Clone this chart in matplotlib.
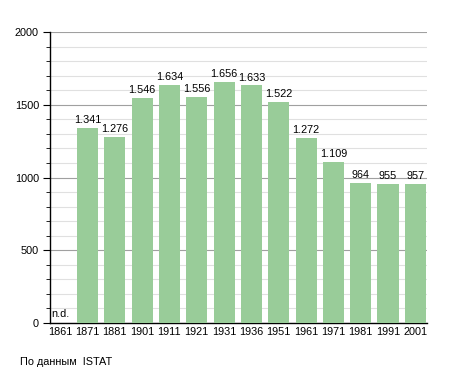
import matplotlib
matplotlib.use("Agg")
import matplotlib.pyplot as plt
from matplotlib.ticker import MultipleLocator

plt.rcParams['font.family'] = ['Liberation Sans', 'DejaVu Sans']

years = ['1861', '1871', '1881', '1901', '1911', '1921', '1931', '1936',
         '1951', '1961', '1971', '1981', '1991', '2001']
population = [None, 1341, 1276, 1546, 1634, 1556, 1656, 1633,
              1522, 1272, 1109, 964, 955, 957]

fig = plt.figure(figsize=(4.55, 3.73), dpi=100)
ax = fig.add_axes([0.110, 0.134, 0.828, 0.780])

xs = list(range(len(years)))
for x, v in zip(xs, population):
    if v is None:
        ax.text(x - 0.33, 25, 'n.d.', fontsize=7.8, ha='left', va='bottom')
        continue
    ax.bar(x, v, width=0.77, color='#99cc99', zorder=3)
    label = f'{v:,}'.replace(',', '.')
    ax.text(x, v + 20, label, fontsize=7.8, ha='center', va='bottom', zorder=4)

ax.set_xlim(-0.37, 13.42)
ax.set_ylim(0, 2000)
ax.set_xticks(xs)
ax.set_xticklabels(years, fontsize=7.8)
ax.tick_params(axis='x', length=0, pad=3)
ax.yaxis.set_major_locator(MultipleLocator(500))
ax.yaxis.set_minor_locator(MultipleLocator(100))
ax.tick_params(axis='y', which='major', length=5, labelsize=7.8, pad=3)
ax.tick_params(axis='y', which='minor', length=3)
ax.grid(axis='y', which='major', color='#a0a0a0', linewidth=0.8, zorder=0)
ax.grid(axis='y', which='minor', color='#e0e0e0', linewidth=0.8, zorder=0)
for s in ['top', 'right']:
    ax.spines[s].set_visible(False)
ax.spines['left'].set_linewidth(1)
ax.spines['bottom'].set_linewidth(1)

fig.text(20 / 455, 1 - 362 / 373, 'По данным  ISTAT', fontsize=7.8, va='center')

fig.savefig('out.png', dpi=100)
